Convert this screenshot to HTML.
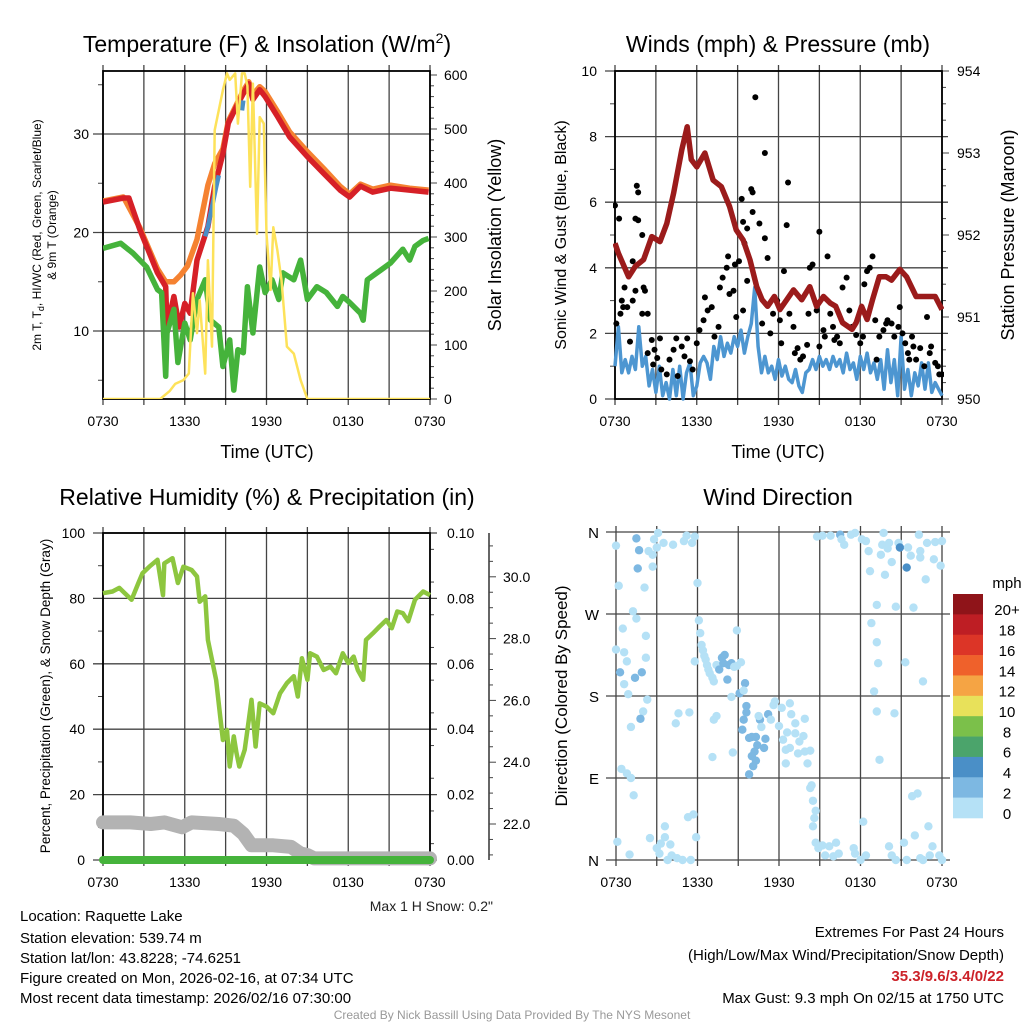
<!DOCTYPE html>
<html><head><meta charset="utf-8"><style>
html,body{margin:0;padding:0;background:#fff;}
svg{display:block;font-family:"Liberation Sans",Arial,sans-serif;}
</style></head><body>
<svg id="chart" width="1024" height="1024" viewBox="0 0 1024 1024" xmlns="http://www.w3.org/2000/svg">
<rect x="0" y="0" width="1024" height="1024" fill="#fff"/>
<text x="267" y="52" font-size="23" text-anchor="middle">Temperature (F) &amp; Insolation (W/m<tspan dy="-9" font-size="14">2</tspan><tspan dy="9">)</tspan></text>
<text x="778" y="52" font-size="23" text-anchor="middle">Winds (mph) &amp; Pressure (mb)</text>
<text x="267" y="505" font-size="23" text-anchor="middle">Relative Humidity (%) &amp; Precipitation (in)</text>
<text x="778" y="505" font-size="23" text-anchor="middle">Wind Direction</text>
<text transform="translate(41,235) rotate(-90)" font-size="12" text-anchor="middle">2m T, T<tspan dy="3" font-size="9">d</tspan><tspan dy="-3">, HI/WC (Red, Green, Scarlet/Blue)</tspan></text>
<text transform="translate(56,235) rotate(-90)" font-size="12" text-anchor="middle">&amp; 9m T (Orange)</text>
<text transform="translate(501,235) rotate(-90)" font-size="18" text-anchor="middle">Solar Insolation (Yellow)</text>
<text x="267" y="458" font-size="18" text-anchor="middle">Time (UTC)</text>
<text x="778" y="458" font-size="18" text-anchor="middle">Time (UTC)</text>
<text transform="translate(566,235) rotate(-90)" font-size="16" text-anchor="middle">Sonic Wind &amp; Gust (Blue, Black)</text>
<text transform="translate(1014,235) rotate(-90)" font-size="18" text-anchor="middle">Station Pressure (Maroon)</text>
<text transform="translate(50,696) rotate(-90)" font-size="13.5" text-anchor="middle">Percent, Precipitation (Green), &amp; Snow Depth (Gray)</text>
<text transform="translate(567,696) rotate(-90)" font-size="17" text-anchor="middle">Direction (Colored By Speed)</text>
<text x="493" y="911" font-size="14" text-anchor="end" fill="#222">Max 1 H Snow: 0.2"</text>
<g font-size="15">
<text x="20" y="921">Location: Raquette Lake</text>
<text x="20" y="943">Station elevation: 539.74 m</text>
<text x="20" y="963">Station lat/lon: 43.8228; -74.6251</text>
<text x="20" y="983">Figure created on Mon, 2026-02-16, at 07:34 UTC</text>
<text x="20" y="1003">Most recent data timestamp: 2026/02/16 07:30:00</text>
</g>
<g font-size="15" text-anchor="end">
<text x="1004" y="937">Extremes For Past 24 Hours</text>
<text x="1004" y="960">(High/Low/Max Wind/Precipitation/Snow Depth)</text>
<text x="1004" y="981" fill="#cc2229" font-weight="bold">35.3/9.6/3.4/0/22</text>
<text x="1004" y="1003">Max Gust: 9.3 mph On 02/15 at 1750 UTC</text>
</g>
<text x="512" y="1019" font-size="12" fill="#999" text-anchor="middle">Created By Nick Bassill Using Data Provided By The NYS Mesonet</text>
</svg>
<script>
// ---------- data ----------
const timeLabels = ["0730","1330","1930","0130","0730"];
const timeTickHours = [0,6,12,18,24];
// Panel 1: temperature
const tempHours = [0,1.5,1.9,2.7,4.0,4.6,4.7,5.2,5.6,6.0,6.4,6.9,7.7,8.2,8.8,9.2,9.8,10.3,10.7,11.0,11.5,11.9,12.8,13.7,15.0,16.2,17.4,18.1,18.9,19.8,21.1,22.5,23.9];
const tempValues = [23.1,23.5,23.5,20.3,15.9,14.5,10.4,13.5,10.4,12.8,11.8,17.2,20.6,24.7,28.0,31.1,32.8,34.1,35.1,33.5,34.5,33.8,31.8,29.7,27.7,26.0,24.3,23.6,24.7,24.1,24.5,24.3,24.1];
const temp9Hours = [0,1.5,2.7,4.0,4.6,5.2,5.7,6.2,6.9,7.7,8.2,8.8,9.2,9.8,10.3,10.7,11.0,11.5,11.9,12.8,13.7,15.0,16.2,17.4,18.1,18.9,19.8,21.1,22.5,23.9];
const temp9Values = [23.2,23.6,20.5,16.3,15.0,15.0,15.7,16.6,19.3,24.8,27.0,28.5,31.3,33.0,34.4,35.3,34.0,34.8,34.3,32.3,30.2,28.2,26.5,24.7,23.9,24.9,24.4,24.8,24.5,24.3];
const hiwcHours = [7.5,7.7,8.0,8.3,8.5,10.2,10.3];
const hiwcValues = [19.6,20.6,22.6,24.6,25.8,32.4,33.4];
const dewHours = [0,1.3,2.2,3.2,4.0,4.3,4.6,4.7,5.2,5.5,6.0,6.4,6.9,7.5,7.9,8.5,8.8,9.3,9.6,9.9,10.3,10.6,11.0,11.5,11.9,12.4,12.9,13.2,14.0,14.5,15.0,15.7,16.4,17.2,17.6,18.1,18.9,19.1,19.4,20.1,21.1,22.0,22.5,22.9,23.5,23.9];
const dewValues = [18.4,18.9,17.9,16.5,14.2,13.9,5.4,9.8,12.2,6.8,10.8,9.1,13.2,15.2,11.1,10.4,6.4,9.1,4.0,8.1,7.8,14.5,9.8,16.5,13.9,15.2,13.2,15.9,15.2,17.2,13.2,14.5,13.9,12.5,13.5,12.9,11.8,11.1,15.2,15.9,16.9,18.3,17.2,18.6,19.2,19.4];
const solarHours = [0,4.2,4.9,5.3,5.9,6.3,6.6,6.9,7.1,7.5,7.7,8.0,8.2,8.5,8.8,9.1,9.3,9.7,9.9,10.2,10.4,10.6,10.8,11.0,11.3,11.5,11.8,12.0,12.3,12.5,12.8,13.1,13.5,14.0,14.5,15.0,24];
const solarValues = [0,0,15,28,35,47,196,122,183,47,257,97,498,535,572,603,591,603,510,603,603,580,393,584,306,522,510,306,202,318,275,220,97,84,35,0,0];
const tempTicks = [10,20,30];
const solarTicks = [0,100,200,300,400,500,600];
// Panel 2: winds & pressure
const pressHours = [0,0.24,1.0,1.5,2.1,2.7,3.3,3.8,4.3,4.9,5.3,5.6,6.0,6.6,7.2,7.8,8.4,8.9,9.4,9.9,10.4,10.8,11.2,11.7,12.1,12.6,13.1,13.7,14.3,14.8,15.3,15.8,16.2,16.7,17.4,17.7,18.1,18.5,18.9,19.4,19.9,20.3,20.9,21.4,22.1,22.9,23.5,24];
const pressValues = [951.90,951.78,951.49,951.62,951.70,951.98,951.92,952.14,952.51,953.04,953.32,952.92,952.83,953.0,952.67,952.59,952.35,952.06,951.94,951.70,951.37,951.21,951.13,951.25,951.09,951.21,951.33,951.21,951.37,951.13,951.25,951.17,951.13,950.93,950.85,950.93,951.13,950.97,951.21,951.49,951.49,951.45,951.58,951.49,951.25,951.25,951.25,951.09];
const sonicValues = [1.0,2.2,0.8,1.2,0.8,1.3,0.9,2.2,1.0,1.3,0.4,0.9,0.2,1.0,0.1,0.5,0.0,0.9,0.1,1.0,0.0,0.8,1.1,0.1,0.4,1.1,1.3,1.1,0.6,1.6,1.2,1.9,1.3,1.7,1.4,1.9,1.6,2.1,1.4,1.9,2.3,3.4,1.6,0.8,1.3,0.8,1.0,0.6,1.2,0.7,1.0,0.6,0.5,0.9,0.4,0.2,0.8,0.9,1.2,0.9,1.3,1.0,1.2,0.9,1.3,1.0,1.2,0.8,1.4,0.9,1.1,0.6,1.3,0.9,1.4,0.8,1.1,0.6,1.2,0.3,1.5,0.5,1.2,0.1,1.9,0.3,0.9,0.1,0.8,0.4,1.1,0.3,1.1,0.2,0.5,0.3,0.1];
const sonicStepHours = 0.25;
const gustHours = [0,0.1,0.3,0.4,0.5,0.6,0.7,0.9,1.1,1.3,1.6,1.7,1.5,1.7,1.5,1.3,2.0,2.1,2.2,2.0,2.4,2.4,2.7,2.8,2.9,3.1,3.3,3.4,3.8,4.0,4.3,4.5,4.6,4.9,5.1,5.3,5.5,5.7,6.0,6.2,6.5,6.6,6.8,7.1,7.3,7.6,7.7,7.9,8.2,8.3,8.4,8.7,8.8,8.9,9.1,9.3,9.4,9.5,9.7,9.7,9.4,10.0,10.1,10.3,10.1,10.6,10.8,11.0,11.0,11.2,11.4,11.6,11.9,12.1,12.2,12.4,12.6,12.7,12.8,13.1,13.2,13.4,13.6,13.8,14.1,14.2,14.3,14.5,14.8,15.0,15.0,15.3,15.4,15.6,15.8,16.0,16.1,16.3,16.5,16.7,17.0,17.2,17.4,17.7,18.0,18.2,18.3,18.5,18.7,18.9,19.1,19.2,19.4,19.7,19.9,20.0,20.3,20.5,20.8,20.9,21.1,21.3,21.5,21.6,21.8,21.9,22.1,22.4,22.7,22.9,23.1,23.2,23.5,23.7,23.8,24];
const gustValues = [5.9,2.3,5.5,2.6,3.0,2.8,3.4,2.8,1.75,4.2,6.5,6.3,5.5,5.45,3.3,3.0,5.0,3.4,3.3,2.6,2.6,1.4,1.8,1.05,1.5,1.25,1.85,0.9,0.75,1.2,1.5,1.85,0.7,1.6,1.3,1.85,1.15,0.9,1.7,2.1,2.4,3.1,2.7,2.8,1.9,2.2,3.4,3.7,4.0,4.35,3.2,3.3,4.1,2.5,4.2,6.1,5.4,4.75,5.2,3.6,2.7,6.4,6.3,9.2,5.7,5.35,2.3,4.9,7.5,4.3,2.0,2.6,3.0,2.4,1.7,3.9,5.3,6.6,2.6,2.2,1.4,1.55,1.2,1.3,1.65,2.6,4.0,4.1,2.7,5.1,1.6,2.1,1.9,4.35,2.6,2.2,1.8,1.9,1.7,3.4,3.7,2.7,2.2,1.95,1.7,1.9,3.5,3.9,4.0,4.35,2.4,1.2,1.9,2.1,2.3,2.4,2.3,1.9,2.2,2.8,2.0,1.7,1.4,1.2,1.9,1.6,1.2,1.55,1.0,2.5,1.4,1.6,1.1,1.0,0.75,0.75];
const windTicks = [0,2,4,6,8,10];
const pressTicks = [950,951,952,953,954];
// Panel 3: humidity
const rhHours = [0,0.7,1.2,1.6,2.1,2.6,2.9,3.4,4.0,4.4,4.5,5.1,5.5,5.9,6.5,6.9,7.1,7.5,7.7,8.1,8.3,8.6,8.8,9.1,9.3,9.6,9.8,10.0,10.4,10.7,10.9,11.2,11.5,12.0,12.5,13.0,13.5,14.0,14.3,14.6,15.0,15.2,15.7,16.2,16.7,17.1,17.6,18.0,18.4,18.7,19.1,19.3,19.8,20.3,20.8,21.2,21.6,22.0,22.4,22.9,23.5,24];
const rhValues = [81.6,82.1,83.2,81.6,79.6,84.7,87.7,89.7,91.8,81.0,90.7,92.3,84.7,89.7,88.7,86.7,79.0,80.6,67.3,59.1,55.1,43.9,36.7,39.8,28.6,37.8,32.7,28.6,33.7,42.8,49.0,34.7,47.9,46.9,44.9,51.0,54.1,56.2,50.0,61.7,55.1,63.2,62.2,58.1,59.1,57.1,63.2,60.2,62.2,58.1,55.1,67.3,69.3,71.4,73.4,70.9,76.0,75.5,73.0,79.6,82.1,81.0];
const snowHours = [0,2,3.5,4.5,5.8,6.5,8.5,9.6,10.3,10.9,12.5,13.8,14.5,15,15.5,24];
const snowValues = [11.5,11.5,11,11.5,10,11.5,11,10.5,8,4.5,4.5,4,2,1.5,0.5,0.5];
const precipHours = [0,24];
const precipValues = [0,0];
const rhTicks = [0,20,40,60,80,100];
const precipTickLabels = ["0.00","0.02","0.04","0.06","0.08","0.10"];
const depthTicks = [22,24,26,28,30];
// Panel 4: wind direction
const dirHours = [0,0.2,1.5,1.7,1.6,2.1,2.4,2.7,2.7,2.8,3.0,3.1,3.5,4.2,5.0,5.2,5.6,5.8,6.0,1.25,1.5,0.5,0,0.6,2.2,2.2,0.8,0.3,1.4,1.9,0.6,0.9,2.3,2.0,1.8,1.1,6.1,6.2,6.3,6.4,6.5,6.6,6.7,6.8,6.9,7.1,7.2,5.8,7.4,7.6,7.8,8.0,7.9,8.2,8.3,8.5,8.7,8.9,8.9,9.2,9.5,9.1,8.5,9.4,9.6,9.6,9.4,9.3,9.8,10.0,10.3,10.4,10.2,10.0,10.3,10.1,9.8,10.6,11.0,10.9,11.2,10.5,10.7,11.4,11.6,11.7,12.2,12.8,12.9,13.2,12.0,12.6,12.3,12.5,12.8,13.2,13.5,13.8,13.9,13.4,13.9,14.3,14.1,12.5,4.6,4.4,5.4,7.2,7.4,7.1,8.6,0.4,0.8,1.1,1.3,0.1,1.0,2.5,3.0,3.2,3.6,3.6,3.3,4.0,3.8,4.1,4.5,4.9,5.5,5.3,5.7,5.9,14.4,14.3,14.5,14.7,14.6,14.5,14.7,14.9,15.2,15.4,15.7,16.0,16.2,16.4,17.5,17.6,18.0,18.4,18.2,20.1,20.3,20.6,21.2,21.4,22.0,22.4,22.6,23.0,23.1,23.3,23.8,24,21.8,22.2,19.4,14.8,15.2,15.8,16.5,16.6,16.8,17.3,17.6,18.1,18.4,18.6,18.7,19.2,18.8,19.2,19.3,19.0,19.2,19.7,19.6,19.5,19.8,20.0,20.1,20.3,20.8,20.9,20.6,21.4,21.5,21.7,21.9,22.4,22.4,22.3,22.8,22.9,23.4,23.5,23.9,24,21.3,20.5,22.6];
const dirDegrees = [345,301,353,340,320,299,339,335,322,352,343,359,348,346,350,356,348,355,304,273,265,254,231,228,246,222,218,206,200,206,193,182,176,163,155,146,263,249,236,230,224,220,214,209,205,200,196,218,214,209,222,225,216,198,214,216,212,213,252,217,194,183,179,186,169,162,154,143,134,135,135,126,119,114,109,103,94,154,133,123,160,158,146,154,170,174,167,172,160,150,147,140,132,121,123,139,130,136,155,117,119,120,106,106,161,150,162,154,158,113,118,100,95,90,71,20,6,24,13,7,37,25,18,17,0,5,2,0,0,47,50,25,82,79,65,54,46,37,19,13,16,5,15,4,19,7,13,7,0,5,42,15,5,0,19,0,27,2,0,37,5,15,5,0,70,73,110,355,356,356,357,352,346,357,359,352,350,339,317,280,260,239,216,185,163,359,346,335,313,342,348,327,348,343,278,321,343,334,277,339,332,357,308,348,330,349,323,350,217,161,196];
const dirSpeedClass = [0,0,1,1,1,0,0,0,0,0,0,0,0,0,0,0,0,0,0,0,0,0,0,0,0,0,0,1,1,1,0,0,0,0,1,0,0,0,0,0,0,0,0,0,0,0,0,0,0,1,1,1,1,1,1,1,0,0,0,0,1,1,0,0,1,1,1,1,1,1,1,1,1,1,1,1,1,1,1,1,1,0,0,0,0,0,0,0,0,0,0,0,0,0,0,0,0,0,0,0,0,0,0,0,0,0,0,0,0,0,0,0,0,0,0,0,0,0,0,0,0,0,0,0,0,0,0,0,0,0,0,0,0,0,0,0,0,0,0,0,0,0,0,0,0,0,0,0,0,0,0,0,0,0,0,0,0,0,0,0,0,0,0,0,0,0,0,0,0,0,1,0,0,0,0,0,0,0,0,0,0,0,0,0,0,0,0,0,0,0,0,0,0,2,0,2,0,0,0,0,0,0,0,0,0,0,0,0,0,0,0,0,0,0,0];
const dirTickLabels = ["N","E","S","W","N"];
const dirTickDegrees = [0,90,180,270,360];
const speedLegendLabels = ["20+","18","16","14","12","10","8","6","4","2","0"];
const speedLegendColors = ["#8f1419","#be1e24","#dc3527","#ef612b","#f5a444","#e8e15a","#7bc04a","#4ba46b","#4a8fc7","#7db8e2","#b5e1f6"];

// ---------- helpers ----------
const NS = "http://www.w3.org/2000/svg";
const svg = document.getElementById('chart');
function mk(tag, attrs, parent) {
  const e = document.createElementNS(NS, tag);
  for (const k in attrs) e.setAttribute(k, attrs[k]);
  (parent || svg).appendChild(e);
  return e;
}
function pathFrom(xs, ys, fx, fy) {
  let d = "";
  for (let i = 0; i < xs.length; i++) d += (i ? "L" : "M") + fx(xs[i]).toFixed(1) + "," + fy(ys[i]).toFixed(1);
  return d;
}
const GRID = "#444";
function frame(name, x0, x1, y0, y1, hx) {
  const g = mk('g', {});
  
  
  for (let k = 0; k <= 8; k++) {
    const x = x0 + (x1 - x0) * k / 8;
    const l = mk('line', {x1: x, x2: x, y1: y0 - 6, y2: y1 + 6, stroke: GRID, 'stroke-width': 1.3}, g);
    
    
  }
  timeTickHours.forEach((h, i) => {
    const t = mk('text', {x: hx(h), y: y1 + 27, 'font-size': 14, 'text-anchor': 'middle'}, g);
    t.textContent = timeLabels[i];
    
    
  });
  return g;
}
function hline(g, name, x0, x1, y, w) {
  const l = mk('line', {x1: x0, x2: x1, y1: y, y2: y, stroke: GRID, 'stroke-width': w || 1.3}, g);
  
  
}
function label(g, name, x, y, txt, anchor, size) {
  const t = mk('text', {x: x, y: y, 'font-size': size || 14, 'text-anchor': anchor}, g);
  t.textContent = txt;
  
  
}
function box(g, name, x0, x1, y0, y1) {
  const r = mk('rect', {x: x0, y: y0, width: x1 - x0, height: y1 - y0, fill: 'none', stroke: '#000', 'stroke-width': 1.8}, g);
  
  
}

// ---------- Panel 1 ----------
{
  const x0 = 103, x1 = 430, y0 = 71, y1 = 399;
  const X = h => x0 + h * (x1 - x0) / 24;
  const YT = t => 331 - (t - 10) * 9.85;
  const YW = w => 399 - w * 0.54;
  const g = frame('temp', x0, x1, y0, y1, X);
  tempTicks.forEach(t => {
    hline(g, 'temp-hgrid', x0 - 10, x1, YT(t));
    label(g, 'temp-y-tick-label', x0 - 14, YT(t) + 5, String(t), 'end');
  });
  [5, 15, 25, 35].forEach(t => hline(g, 'temp-minor-tick', x0 - 5, x0, YT(t), 1));
  for (let w = 0; w <= 600; w += 20) hline(g, 'solar-tick', x1, x1 + (w % 100 === 0 ? 7 : 4), YW(w), 1);
  solarTicks.forEach(w => label(g, 'solar-y-tick-label', x1 + 14, YW(w) + 5, String(w), 'start'));
  const clip = mk('clipPath', {id: 'clip1'});
  mk('rect', {x: x0, y: y0, width: x1 - x0, height: y1 - y0}, clip);
  const pg = mk('g', {'clip-path': 'url(#clip1)'});
  
  
  let p;
  p = mk('path', {d: pathFrom(temp9Hours, temp9Values, X, YT), fill: 'none', stroke: '#f58231', 'stroke-width': 5.5, 'stroke-linejoin': 'round'}, pg);
  
  
  p = mk('path', {d: pathFrom(tempHours, tempValues, X, YT), fill: 'none', stroke: '#d62027', 'stroke-width': 5.5, 'stroke-linejoin': 'round'}, pg);
  
  
  p = mk('path', {d: pathFrom(hiwcHours.slice(0, 5), hiwcValues.slice(0, 5), X, YT) + pathFrom(hiwcHours.slice(5), hiwcValues.slice(5), X, YT), fill: 'none', stroke: '#4a8fc7', 'stroke-width': 4.5}, pg);
  
  
  p = mk('path', {d: pathFrom(dewHours, dewValues, X, YT), fill: 'none', stroke: '#45b33b', 'stroke-width': 5.5, 'stroke-linejoin': 'round'}, pg);
  
  
  p = mk('path', {d: pathFrom(solarHours, solarValues, X, YW), fill: 'none', stroke: '#fde25a', 'stroke-width': 2.5, 'stroke-linejoin': 'round'}, pg);
  
  
  box(g, 'temp-plot-frame', x0, x1, y0, y1);
}

// ---------- Panel 2 ----------
{
  const x0 = 615, x1 = 942, y0 = 71, y1 = 399;
  const X = h => x0 + h * (x1 - x0) / 24;
  const YV = v => 399 - v * 32.8;
  const YP = p => 399 - (p - 950) * 82;
  const g = frame('wind', x0, x1, y0, y1, X);
  windTicks.forEach(v => {
    hline(g, 'wind-hgrid', x0 - 10, (v === 0 || v === 10) ? x1 : x1 + 6, YV(v));
    label(g, 'wind-y-tick-label', x0 - 18, YV(v) + 5, String(v), 'end');
  });
  [1, 3, 5, 7, 9].forEach(v => hline(g, 'wind-minor-tick', x0 - 5, x0, YV(v), 1));
  for (let p = 950; p <= 954.01; p += 0.2) hline(g, 'pressure-tick', x1, x1 + (Math.abs(p - Math.round(p)) < 0.01 ? 7 : 4), YP(p), 1);
  pressTicks.forEach(p => label(g, 'pressure-y-tick-label', x1 + 15, YP(p) + 5, String(p), 'start'));
  const clip = mk('clipPath', {id: 'clip2'});
  mk('rect', {x: x0 - 2, y: y0, width: x1 - x0 + 4, height: y1 - y0 + 3}, clip);
  const pg = mk('g', {'clip-path': 'url(#clip2)'});
  
  
  const sonicHours = sonicValues.map((v, i) => i * sonicStepHours);
  let p = mk('path', {d: pathFrom(sonicHours, sonicValues, X, YV), fill: 'none', stroke: '#4d96d1', 'stroke-width': 3.5, 'stroke-linejoin': 'round'}, pg);
  
  
  gustHours.forEach((h, i) => {
    const c = mk('circle', {cx: X(h), cy: YV(gustValues[i]), r: 3, fill: '#000'}, pg);
    
    
  });
  p = mk('path', {d: pathFrom(pressHours, pressValues, X, YP), fill: 'none', stroke: '#9b1b1b', 'stroke-width': 5.5, 'stroke-linejoin': 'round'}, pg);
  
  
  box(g, 'wind-plot-frame', x0, x1, y0, y1);
}

// ---------- Panel 3 ----------
{
  const x0 = 103, x1 = 430, y0 = 533, y1 = 860;
  const X = h => x0 + h * (x1 - x0) / 24;
  const YR = r => 860 - r * 3.27;
  const YS = s => 824 - (s - 22) * 30.9;
  const g = frame('rh', x0, x1, y0, y1, X);
  rhTicks.forEach((r, i) => {
    hline(g, 'rh-hgrid', x0 - 10, x1 + 7, YR(r));
    label(g, 'rh-y-tick-label', x0 - 18, YR(r) + 5, String(r), 'end');
    label(g, 'precip-y-tick-label', x1 + 17, YR(r) + 5, precipTickLabels[i], 'start');
  });
  for (let r = 10; r < 100; r += 20) hline(g, 'rh-minor-tick', x0 - 5, x0, YR(r), 1);
  for (let r = 5; r < 100; r += 10) hline(g, 'precip-minor-tick', x1, x1 + 4, YR(r), 1);
  const ax = mk('line', {x1: 489, x2: 489, y1: y0, y2: y1, stroke: '#333', 'stroke-width': 1.5}, g);
  
  
  for (let s = 21; s <= 31.01; s += 0.5) {
    const major = Math.abs(s - Math.round(s / 2) * 2) < 0.01;
    hline(g, 'depth-tick', 489, 489 + (major ? 7 : 4), YS(s), 1);
  }
  depthTicks.forEach(s => label(g, 'depth-y-tick-label', 503, YS(s) + 5, s.toFixed(1), 'start'));
  const pg = mk('g', {});
  
  
  let p = mk('path', {d: pathFrom(snowHours, snowValues, X, YR), fill: 'none', stroke: '#b3b3b3', 'stroke-width': 14, 'stroke-linejoin': 'round', 'stroke-linecap': 'round'}, pg);
  
  
  p = mk('path', {d: pathFrom(precipHours, precipValues, X, YR), fill: 'none', stroke: '#45b33b', 'stroke-width': 8, 'stroke-linecap': 'round'}, pg);
  
  
  p = mk('path', {d: pathFrom(rhHours, rhValues, X, YR), fill: 'none', stroke: '#8dc63f', 'stroke-width': 4.5, 'stroke-linejoin': 'round'}, pg);
  
  
  box(g, 'rh-plot-frame', x0, x1, y0, y1);
}

// ---------- Panel 4 ----------
{
  const x0 = 616, x1 = 942, y0 = 532, y1 = 860;
  const X = h => x0 + h * (x1 - x0) / 24;
  const YD = d => 860 - d * (328 / 360);
  const g = frame('direction', x0, x1, y0, y1, X);
  dirTickDegrees.forEach((d, i) => {
    hline(g, 'direction-hgrid', x0 - 10, x1 + 8, YD(d));
    label(g, 'direction-y-tick-label', x0 - 17, YD(d) + 6, dirTickLabels[i], 'end', 15);
  });
  const cls = ['#b5e1f6', '#7db8e2', '#4a8fc7'];
  const pg = mk('g', {});
  
  
  dirHours.forEach((h, i) => {
    const c = mk('circle', {cx: X(h), cy: YD(dirDegrees[i]), r: 4.2, fill: cls[dirSpeedClass[i] || 0]}, pg);
    
    
  });
  const lg = mk('g', {});
  
  
  label(lg, 'speed-legend-title', 1007, 588, 'mph', 'middle', 15);
  const top = 594, hgt = 224 / speedLegendColors.length;
  speedLegendColors.forEach((col, i) => {
    const r = mk('rect', {x: 953, y: top + i * hgt, width: 30, height: hgt + 0.3, fill: col}, lg);
    
    
    label(lg, 'speed-legend-label', 1007, top + (i + 0.5) * hgt + 11, speedLegendLabels[i], 'middle', 15);
  });
}
</script>
</body></html>
